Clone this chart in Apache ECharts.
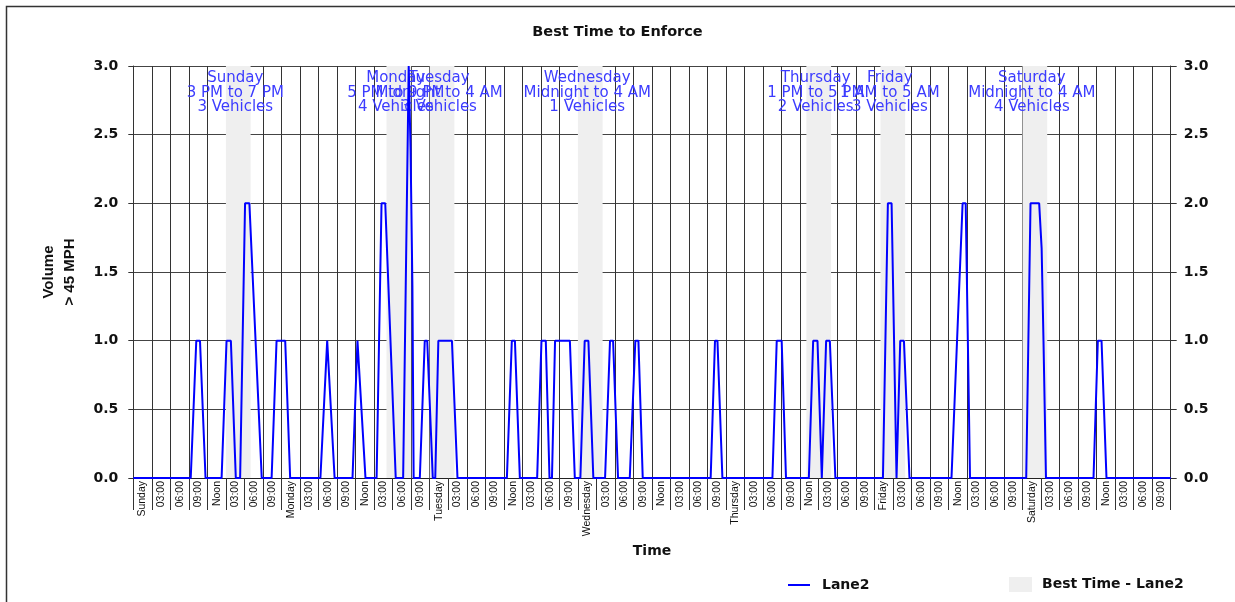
<!DOCTYPE html>
<html lang="en">
<head>
    <meta charset="UTF-8">
    <title>Best Time to Enforce</title>
    <script src="https://cdn.jsdelivr.net/npm/echarts@6/dist/echarts.min.js"></script>
    <style>
        html, body { margin: 0; padding: 0; background: #fff; }
        #chart { width: 1235px; height: 602px; }
    </style>
</head>
<body>
<div id="chart"></div>
<script>
    // tick labels: one per 3 hour block, starting Sunday 00:00
    var days = ['Sunday', 'Monday', 'Tuesday', 'Wednesday', 'Thursday', 'Friday', 'Saturday'];
    var blockLabels = ['03:00', '06:00', '09:00', 'Noon', '03:00', '06:00', '09:00'];

    // Lane2 volume, vertices (hours since Sunday 00:00)
    var lane2Hours = [0,
        9.3, 10.2, 10.8, 11.7,
        14.3, 15.1, 15.8, 16.6,
        17.3, 18.1, 18.8, 20.8,
        22.4, 23.2, 24.6, 25.4,
        30.3, 31.4, 32.6,
        35.5, 36.3, 36.6, 37.6,
        39.4, 40.2, 40.8, 42.5,
        43.7, 44.3, 44.6, 44.9, 45.2, 45.4,
        46.4, 47.2, 47.6, 48.5,
        48.9, 49.4, 51.6, 52.5,
        60.5, 61.3, 61.8, 62.6,
        65.4, 66.1, 66.8, 67.4,
        67.8, 68.3, 70.7, 71.5,
        72.4, 73.1, 73.7, 74.5,
        76.4, 77.2, 77.7, 78.5,
        80.4, 81.3, 81.8, 82.5,
        93.5, 94.2, 94.6, 95.4,
        103.5, 104.2, 105.0, 105.7,
        109.4, 110.1, 110.8, 111.5,
        111.7, 112.2, 112.8, 113.7,
        121.4, 122.2, 122.8, 123.6,
        123.8, 124.2, 124.8, 125.7,
        132.5, 133.4, 134.3, 134.8, 135.5,
        144.6, 145.3, 146.7, 147.1, 147.4, 147.8,
        155.5, 156.2, 156.8, 157.6,
        168];
    var lane2Volume = [0,
        0, 1, 1, 0,
        0, 1, 1, 0,
        0, 2, 2, 0,
        0, 1, 1, 0,
        0, 1, 0,
        0, 1, 1, 0,
        0, 2, 2, 0,
        0, 2, 3, 2.4, 1.4, 0,
        0, 1, 1, 0,
        0, 1, 1, 0,
        0, 1, 1, 0,
        0, 1, 1, 0,
        0, 1, 1, 0,
        0, 1, 1, 0,
        0, 1, 1, 0,
        0, 1, 1, 0,
        0, 1, 1, 0,
        0, 1, 1, 0,
        0, 1, 1, 0,
        0, 1, 1, 0,
        0, 2, 2, 0,
        0, 1, 1, 0,
        0, 1, 2, 2, 0,
        0, 2, 2, 1.67, 1, 0,
        0, 1, 1, 0,
        0];

    // best time windows (hours since Sunday 00:00)
    var bestStart = [15, 41, 48, 72, 109, 121, 144];
    var bestEnd = [19, 45, 52, 76, 113, 125, 148];
    var bestDay = ['Sunday', 'Monday', 'Tuesday', 'Wednesday', 'Thursday', 'Friday', 'Saturday'];
    var bestWindow = ['3 PM to 7 PM', '5 PM to 9 PM', 'Midnight to 4 AM', 'Midnight to 4 AM',
        '1 PM to 5 PM', '1 AM to 5 AM', 'Midnight to 4 AM'];
    var bestVehicles = [3, 4, 3, 1, 2, 3, 4];

    var timeLabels = [];
    days.forEach(function (d) {
        timeLabels.push(d);
        blockLabels.forEach(function (b) { timeLabels.push(b); });
    });

    var lane2Data = lane2Hours.map(function (h, i) { return [h, lane2Volume[i]]; });

    var bandData = bestStart.map(function (s, i) {
        return [
            { name: bestDay[i] + '\n' + bestWindow[i] + '\n' + bestVehicles[i] + ' Vehicles', xAxis: s },
            { xAxis: bestEnd[i] }
        ];
    });

    var boldFont = 'DejaVu Sans';
    var yLabel = {
        fontFamily: boldFont, fontWeight: 'bold', fontSize: 14, color: '#111',
        formatter: function (v) { return v.toFixed(1); }
    };

    var myChart = echarts.init(document.getElementById('chart'));
    myChart.setOption({
        animation: false,
        title: {
            text: 'Best Time to Enforce',
            left: 'center',
            top: 25,
            padding: 0,
            textStyle: { fontFamily: boldFont, fontWeight: 'bold', fontSize: 14.5, color: '#111' }
        },
        graphic: [{
            type: 'rect',
            shape: { x: 6.5, y: 6.5, width: 1300, height: 700 },
            style: { fill: 'none', stroke: '#333', lineWidth: 1.5 },
            silent: true
        }],
        legend: [{
            data: [{ name: 'Lane2', icon: 'rect' }],
            left: 788, top: 578,
            padding: 0,
            itemWidth: 22, itemHeight: 2,
            textStyle: { fontFamily: boldFont, fontWeight: 'bold', fontSize: 14, color: '#111', padding: [0, 0, 0, 7] }
        }, {
            data: [{ name: 'Best Time - Lane2', icon: 'rect' }],
            left: 1009, top: 577,
            padding: 0,
            itemWidth: 23, itemHeight: 15,
            textStyle: { fontFamily: boldFont, fontWeight: 'bold', fontSize: 14, color: '#111', padding: [0, 0, 0, 5] }
        }],
        grid: { left: 133.3, right: 64.3, top: 66, bottom: 124 },
        xAxis: [{
            type: 'category',
            data: timeLabels,
            boundaryGap: true,
            name: 'Time',
            nameLocation: 'middle',
            nameGap: 64,
            nameTextStyle: { fontFamily: boldFont, fontWeight: 'bold', fontSize: 14, color: '#111', verticalAlign: 'top' },
            axisLine: { show: true, lineStyle: { color: '#222', width: 1 } },
            axisTick: { show: true, interval: 0, length: 32, lineStyle: { color: '#333' } },
            axisLabel: {
                interval: 0, rotate: 90, margin: 3,
                fontFamily: 'Liberation Sans', fontSize: 10.5, color: '#111'
            },
            splitLine: { show: true, interval: 0, lineStyle: { color: '#333', width: 1 } }
        }, {
            type: 'value',
            min: 0, max: 168,
            show: false
        }],
        yAxis: [{
            type: 'value',
            position: 'left',
            min: 0, max: 3, interval: 0.5,
            name: 'Volume\n> 45 MPH',
            nameLocation: 'middle',
            nameRotate: 90,
            nameGap: 53,
            nameTextStyle: { fontFamily: 'Liberation Sans', fontWeight: 'bold', fontSize: 15, lineHeight: 21, color: '#111' },
            axisLine: { show: true, lineStyle: { color: '#333' } },
            axisTick: { show: true, length: 5, lineStyle: { color: '#333' } },
            axisLabel: Object.assign({ margin: 15 }, yLabel),
            splitLine: { show: true, lineStyle: { color: '#444', width: 1 } }
        }, {
            type: 'value',
            position: 'right',
            min: 0, max: 3, interval: 0.5,
            axisLine: { show: true, lineStyle: { color: '#333' } },
            axisTick: { show: true, length: 6, lineStyle: { color: '#333' } },
            axisLabel: Object.assign({ margin: 13 }, yLabel),
            splitLine: { show: false }
        }],
        series: [{
            name: 'Best Time - Lane2',
            type: 'line',
            xAxisIndex: 1,
            yAxisIndex: 0,
            data: [],
            color: '#efefef',
            markArea: {
                silent: true,
                itemStyle: { color: '#efefef' },
                label: {
                    show: true,
                    position: 'insideTop',
                    distance: 5,
                    offset: [-3, 0],
                    formatter: '{b}',
                    fontFamily: 'DejaVu Sans',
                    fontSize: 15,
                    lineHeight: 14.5,
                    color: '#3c3cff',
                    align: 'center'
                },
                data: bandData
            }
        }, {
            name: 'Lane2',
            type: 'line',
            xAxisIndex: 1,
            yAxisIndex: 0,
            symbol: 'none',
            color: '#0000ff',
            lineStyle: { color: '#0000ff', width: 2 },
            data: lane2Data,
            z: 3
        }]
    });
</script>
</body>
</html>
